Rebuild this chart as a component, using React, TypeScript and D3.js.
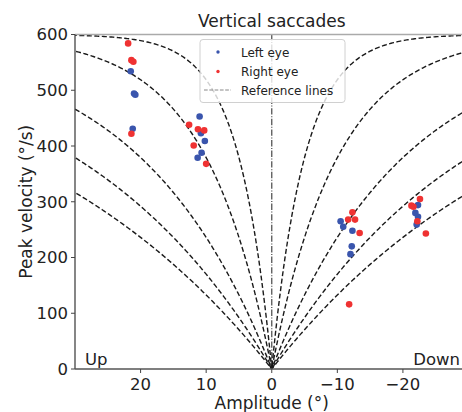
import React from 'react';
import * as d3 from 'd3';

// amplitude (deg, up positive) and peak velocity (deg/s)
const leftEyeAmp = [21.5, 21.0, 20.8, 21.2, 11.0, 10.8, 10.2, 10.7, 11.3, -10.5, -10.9, -12.3, -12.2, -12.0, -22.3, -21.9, -22.3, -22.1];
const leftEyeVel = [534, 494, 492, 431, 453, 423, 409, 388, 379, 265, 255, 248, 220, 206, 294, 280, 273, 259];

const rightEyeAmp = [21.9, 21.4, 21.1, 21.4, 12.6, 11.25, 10.3, 11.9, 10.0, -12.3, -11.65, -12.7, -13.4, -11.8, -22.6, -21.6, -21.3, -22.2, -23.5];
const rightEyeVel = [584, 554, 551, 422, 438, 430, 428, 401, 368, 281, 268, 268, 244, 116, 305, 291, 293, 265, 243];

// main-sequence reference lines: V = Vmax * (1 - exp(-|A| / tau))
const refVmax = 600;
const refTau = [5, 10, 20, 30, 40];

const xTicks = [20, 10, 0, -10, -20];
const yTicks = [0, 100, 200, 300, 400, 500, 600];

const legendItems = ['Left eye', 'Right eye', 'Reference lines'];

const BLUE = '#3a55ad';
const RED = '#ef3232';
const FONT = 'DejaVu Sans, sans-serif';

export default function App() {
  const margin = { top: 34.5, left: 75, right: 468.5, bottom: 369 };

  const x = d3.scaleLinear().domain([30, -30]).range([margin.left, margin.right]);
  const y = d3.scaleLinear().domain([0, 600]).range([margin.bottom, margin.top]);

  const samples = d3.range(-30, 30.001, 0.2);

  const refPath = (tau: number) =>
    d3.line<number>()
      .x((a) => x(a))
      .y((a) => y(refVmax * (1 - Math.exp(-Math.abs(a) / tau))))(samples);

  const fmt = (v: number) => (v < 0 ? '\u2212' + Math.abs(v) : String(v));

  return (
    <svg width={462} height={412} style={{ position: 'absolute', left: 0, top: 0, background: '#fff' }}
      fontFamily={FONT}>
      <defs>
        <clipPath id="plot">
          <rect x={margin.left} y={margin.top} width={margin.right - margin.left} height={margin.bottom - margin.top} />
        </clipPath>
      </defs>

      <g clipPath="url(#plot)">
        {/* zero line */}
        <line x1={x(0)} x2={x(0)} y1={margin.bottom} y2={margin.top}
          stroke="#555" strokeWidth={1.3} strokeDasharray="6.4,1.6,1,1.6" />
        {refTau.map((t) => (
          <path key={t} d={refPath(t) ?? ''} fill="none" stroke="#1a1a1a" strokeWidth={1.4} strokeDasharray="5,2.5" />
        ))}
        {leftEyeAmp.map((a, i) => (
          <circle key={'l' + i} cx={x(a)} cy={y(leftEyeVel[i])} r={3.3} fill={BLUE} />
        ))}
        {rightEyeAmp.map((a, i) => (
          <circle key={'r' + i} cx={x(a)} cy={y(rightEyeVel[i])} r={3.3} fill={RED} />
        ))}
      </g>

      {/* spines */}
      <line x1={margin.left} x2={margin.right} y1={margin.top} y2={margin.top} stroke="#aaa" strokeWidth={1.5} />
      <line x1={margin.left} x2={margin.left} y1={margin.top} y2={margin.bottom} stroke="#444" strokeWidth={1.3} />
      <line x1={margin.left} x2={margin.right} y1={margin.bottom} y2={margin.bottom} stroke="#555" strokeWidth={1.3} />

      {/* y axis */}
      {yTicks.map((t) => (
        <g key={t}>
          <line x1={margin.left - 4} x2={margin.left} y1={y(t)} y2={y(t)} stroke="#444" />
          <text x={margin.left - 7} y={y(t)} dy="0.36em" textAnchor="end" fontSize={16.5} fill="#222">{t}</text>
        </g>
      ))}
      {/* x axis */}
      {xTicks.map((t) => (
        <g key={t}>
          <line x1={x(t)} x2={x(t)} y1={margin.bottom} y2={margin.bottom + 4} stroke="#444" />
          <text x={x(t)} y={390} textAnchor="middle" fontSize={16.5} fill="#222">{fmt(t)}</text>
        </g>
      ))}

      <text x={x(0)} y={409} textAnchor="middle" fontSize={17} fill="#222">Amplitude (°)</text>
      <text transform={`translate(32,${(margin.top + margin.bottom) / 2}) rotate(-90)`} textAnchor="middle"
        fontSize={17} fill="#222">Peak velocity (°/s)</text>
      <text x={x(0)} y={27} textAnchor="middle" fontSize={17} fill="#222">Vertical saccades</text>

      <text x={85} y={365} fontSize={16.5} fill="#222">Up</text>
      <text x={460} y={365} textAnchor="end" fontSize={16.5} fill="#222">Down</text>

      {/* legend */}
      <rect x={200} y={39.5} width={145} height={63} rx={3} fill="#fff" fillOpacity={0.8} stroke="#d0d0d0" />
      <circle cx={218} cy={52} r={1.7} fill={BLUE} />
      <circle cx={218} cy={71.5} r={1.7} fill={RED} />
      <line x1={204} x2={231} y1={90} y2={90} stroke="#888" strokeWidth={1} strokeDasharray="3.7,1.6" />
      {legendItems.map((s, i) => (
        <text key={s} x={241} y={56.5 + i * 19} fontSize={12} fill="#222">{s}</text>
      ))}
    </svg>
  );
}
